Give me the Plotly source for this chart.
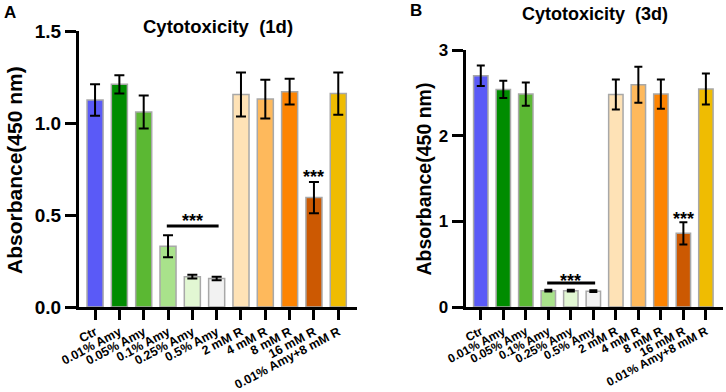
import plotly.graph_objects as go

categories = ["Ctr", "0.01% Amy", "0.05% Amy", "0.1% Amy", "0.25% Amy", "0.5% Amy",
              "2 mM R", "4 mM R", "8 mM R", "16 mM R", "0.01% Amy+8 mM R"]
colors = ["#5a5af7", "#008c00", "#5bb833", "#a9e28b", "#e2f7d3", "#f2f2f2",
          "#fee2b6", "#feb95c", "#fd8402", "#cc5902", "#efbc02"]

vals_1d = [1.125, 1.21, 1.06, 0.33, 0.165, 0.155, 1.155, 1.13, 1.17, 0.595, 1.16]
err_1d = [0.085, 0.05, 0.09, 0.06, 0.01, 0.01, 0.12, 0.105, 0.07, 0.085, 0.115]
vals_3d = [2.70, 2.54, 2.485, 0.19, 0.19, 0.185, 2.48, 2.595, 2.485, 0.86, 2.545]
err_3d = [0.12, 0.10, 0.135, 0.01, 0.01, 0.01, 0.175, 0.21, 0.17, 0.13, 0.18]

yticks_1d = [0.0, 0.5, 1.0, 1.5]
yticks_3d = [0, 1, 2, 3]

FONT = "Arial, Liberation Sans, sans-serif"
xs = list(range(len(categories)))

W, H = 726, 392


def px_x(p):
    return p / W


def px_y(p):
    return 1 - p / H


fig = go.Figure()
for vals, errs, ax, bw, cap in [(vals_1d, err_1d, "x", 0.66, 5), (vals_3d, err_3d, "x2", 0.64, 4)]:
    fig.add_trace(go.Bar(
        x=xs, y=vals, width=bw,
        marker=dict(color=colors, line=dict(color="#a8a8a8", width=1.5)),
        error_y=dict(type="data", array=errs, visible=True, color="black",
                     thickness=2, width=cap),
        xaxis=ax, yaxis="y" if ax == "x" else "y2", showlegend=False, hoverinfo="skip"))

axis_common = dict(showline=True, linecolor="black", linewidth=3, ticks="outside",
                   tickwidth=3, tickcolor="black", showgrid=False,
                   zeroline=False, automargin=False)

fig.update_layout(
    width=W, height=H, margin=dict(l=0, r=0, t=0, b=0),
    plot_bgcolor="white", paper_bgcolor="white",
    font=dict(family=FONT, color="black"),
    xaxis=dict(domain=[px_x(79), px_x(357)], range=[-0.66, 10.77], tickvals=xs,
               ticktext=categories, tickangle=-28, ticklen=10,
               tickfont=dict(size=12.5, family=FONT, weight="bold"), anchor="y", **axis_common),
    yaxis=dict(domain=[px_y(307), px_y(31)], range=[0, 1.5], tickvals=yticks_1d,
               ticktext=[f"{v:.1f}" for v in yticks_1d], ticklen=11,
               tickfont=dict(size=19, family=FONT, weight="bold"), anchor="x", **axis_common),
    xaxis2=dict(domain=[px_x(465.7), px_x(723)], range=[-0.67, 10.76], tickvals=xs,
                ticktext=categories, tickangle=-28, ticklen=10,
                tickfont=dict(size=12, family=FONT, weight="bold"), anchor="y2", **axis_common),
    yaxis2=dict(domain=[px_y(307), px_y(50)], range=[0, 3], tickvals=yticks_3d,
                ticktext=[str(v) for v in yticks_3d], ticklen=11,
                tickfont=dict(size=17, family=FONT, weight="bold"), anchor="x2", **axis_common),
)


def label(text, x, y, size, angle=0):
    return dict(text=f"<b>{text}</b>", xref="paper", yref="paper", x=px_x(x), y=px_y(y),
                xanchor="center", yanchor="middle", showarrow=False, textangle=angle,
                font=dict(size=size, family=FONT, color="black"))


ann = [
    label("Absorbance(450 nm)", 14, 170, 21, -90),
    label("Absorbance(450 nm)", 423.5, 179, 19.5, -90),
    label("Cytotoxicity  (1d)", 217.5, 27, 18.5),
    label("Cytotoxicity  (3d)", 594.7, 14, 18),
    label("A", 10, 12.5, 17),
    label("B", 416, 11, 17),
]

shapes = []
for vals, errs, xr, yr, off_line, gap_grp, gap_single in [
        (vals_1d, err_1d, "x", "y", 0.05, 10, 10),
        (vals_3d, err_3d, "x2", "y2", 0.08, 7, 8)]:
    grp = [3, 4, 5]
    top = max(vals[i] + errs[i] for i in grp)
    line_y = top + off_line
    shapes.append(dict(type="line", xref=xr, yref=yr, x0=grp[0] - 0.05, x1=grp[-1] + 0.08,
                       y0=line_y, y1=line_y, line=dict(color="black", width=3)))
    ann.append(dict(text="<b>***</b>", xref=xr, yref=yr, x=(grp[0] + grp[-1]) / 2, y=line_y,
                    xanchor="center", yanchor="middle", yshift=gap_grp - 5, showarrow=False,
                    font=dict(size=18, family=FONT, color="black")))
    i = 9
    ann.append(dict(text="<b>***</b>", xref=xr, yref=yr, x=i, y=vals[i] + errs[i],
                    xanchor="center", yanchor="middle", yshift=gap_single - 5, showarrow=False,
                    font=dict(size=18, family=FONT, color="black")))

fig.update_layout(annotations=ann, shapes=shapes)
fig.write_html("out.html", config={"displayModeBar": False},
               post_script="document.body.style.margin='0';")
